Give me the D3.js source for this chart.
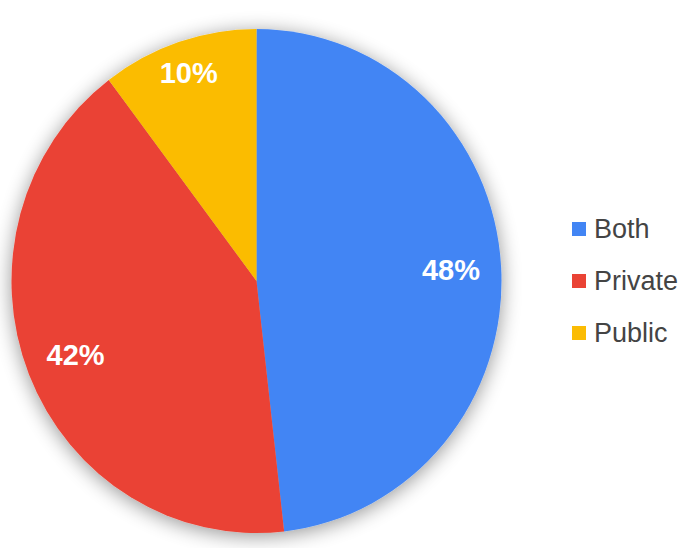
<!DOCTYPE html>
<html>
<head>
<meta charset="utf-8">
<script src="https://cdn.jsdelivr.net/npm/d3@7"></script>
<style>
  html, body { margin: 0; padding: 0; background: #ffffff; }
  svg { display: block; }
  text { font-family: Arial, "Liberation Sans", sans-serif; }
</style>
</head>
<body>
<svg id="chart" width="685" height="548"></svg>
<script>
// Data
const categories = ["Both", "Private", "Public"];
const values = [48.2, 41.5, 10.3];
const labels = ["48%", "42%", "10%"];
const colors = ["#4285F4", "#EA4335", "#FBBC04"];

const W = 685, H = 548;
const cx = 256.5, cy = 281;
const rx = 245, ry = 252;

const svg = d3.select("#chart");

const defs = svg.append("defs");
const f = defs.append("filter").attr("id", "shadow")
  .attr("x", "-25%").attr("y", "-25%").attr("width", "150%").attr("height", "150%");
f.append("feGaussianBlur").attr("in", "SourceAlpha").attr("stdDeviation", 10).attr("result", "b");
f.append("feOffset").attr("in", "b").attr("dx", 0).attr("dy", 3).attr("result", "o");
f.append("feComponentTransfer").attr("in", "o").attr("result", "s")
  .append("feFuncA").attr("type", "linear").attr("slope", 0.42);
const fm = f.append("feMerge");
fm.append("feMergeNode").attr("in", "s");
fm.append("feMergeNode").attr("in", "SourceGraphic");

const pie = d3.pie().sort(null).value(d => d)(values);
const arc = d3.arc().innerRadius(0).outerRadius(rx);

const g = svg.append("g")
  .attr("transform", `translate(${cx},${cy}) scale(1,${ry / rx})`)
  .attr("filter", "url(#shadow)");

g.selectAll("path").data(pie).enter().append("path")
  .attr("d", arc)
  .attr("fill", (d, i) => colors[i]);

// Labels: radial placement, small slices pushed further out
const labelFrac = pie.map(d => (d.endAngle - d.startAngle) < 1 ? 0.87 : 0.795);
svg.selectAll("text.lbl").data(pie).enter().append("text")
  .attr("class", "lbl")
  .attr("x", (d, i) => {
    const a = (d.startAngle + d.endAngle) / 2;
    return cx + Math.sin(a) * rx * labelFrac[i];
  })
  .attr("y", (d, i) => {
    const a = (d.startAngle + d.endAngle) / 2;
    return cy - Math.cos(a) * ry * labelFrac[i];
  })
  .attr("text-anchor", "middle")
  .attr("dominant-baseline", "central")
  .attr("fill", "#ffffff")
  .attr("font-weight", "bold")
  .attr("font-size", 29)
  .text((d, i) => labels[i]);

// Legend
const legendY = d3.scalePoint().domain(categories).range([229, 333]);
const lg = svg.append("g");
const items = lg.selectAll("g").data(categories).enter().append("g")
  .attr("transform", d => `translate(572,${legendY(d)})`);
items.append("rect")
  .attr("x", 0).attr("y", -7).attr("width", 14).attr("height", 14)
  .attr("fill", (d, i) => colors[i]);
items.append("text")
  .attr("x", 22).attr("y", 0)
  .attr("dominant-baseline", "central")
  .attr("fill", "#444444")
  .attr("font-size", 27)
  .text(d => d);
</script>
</body>
</html>
